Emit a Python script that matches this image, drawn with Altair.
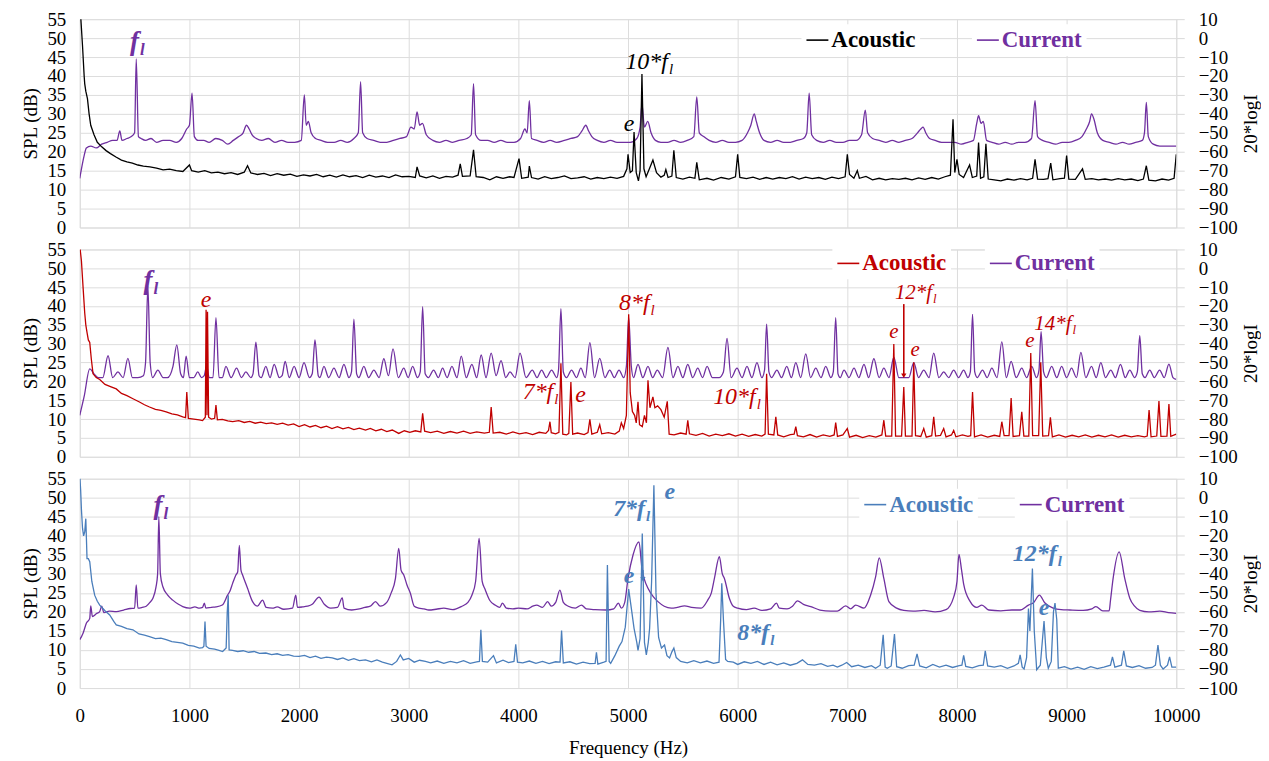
import altair as alt
import pandas as pd

FONT = "Liberation Serif"
PURPLE = "#7030A0"
BLACK = "#000000"
RED = "#C00000"
BLUE = "#4a7ebb"
GRID = "#d9d9d9"

X_TICKS = list(range(0, 10001, 1000))
SPL_TICKS = list(range(0, 56, 5))
LOGI_TICKS = list(range(-100, 11, 10))

# ---------- Panel 1 (black acoustic) ----------
# current: (frequency Hz, 20*logI)
P1_CUR = [(0,-74),(40,-62),(60,-58),(100,-57),(150,-58),(200,-56),(250,-55),(300,-54),(340,-54),(365,-49),(385,-54),(430,-53),(470,-52),(500,-50),(515,-11),(535,-52),(560,-53),(600,-54),(650,-53),(700,-55),(760,-54),(820,-54),(880,-55),(930,-53),(975,-48),(1000,-46),(1024,-29),(1045,-52),(1080,-54),(1130,-54),(1180,-55),(1240,-53),(1300,-54),(1350,-56),(1400,-54),(1450,-52),(1490,-50),(1520,-46),(1545,-48),(1570,-51),(1610,-53),(1660,-54),(1720,-53),(1780,-55),(1840,-54),(1900,-55),(1960,-55),(2020,-54),(2048,-30),(2065,-46),(2085,-44),(2110,-50),(2150,-53),(2200,-54),(2260,-55),(2320,-55),(2380,-54),(2440,-55),(2500,-53),(2540,-50),(2561,-23),(2580,-50),(2620,-53),(2680,-54),(2740,-55),(2800,-55),(2860,-54),(2920,-53),(2980,-52),(3020,-47),(3050,-48),(3076,-39),(3100,-46),(3125,-45),(3160,-51),(3220,-54),(3280,-55),(3340,-54),(3400,-55),(3460,-54),(3530,-53),(3570,-51),(3591,-24),(3610,-51),(3660,-54),(3720,-54),(3780,-55),(3840,-54),(3900,-55),(3960,-55),(4020,-53),(4060,-48),(4080,-50),(4100,-33),(4120,-53),(4170,-54),(4230,-55),(4290,-54),(4350,-55),(4420,-54),(4480,-53),(4540,-52),(4580,-49),(4615,-46),(4640,-49),(4670,-52),(4720,-54),(4780,-55),(4840,-54),(4900,-55),(4960,-55),(5020,-55),(5080,-53),(5110,-47),(5127,-35),(5150,-47),(5180,-44),(5210,-50),(5250,-54),(5300,-55),(5360,-55),(5420,-54),(5480,-55),(5540,-54),(5600,-52),(5627,-31),(5650,-50),(5690,-52),(5740,-54),(5800,-55),(5860,-54),(5920,-55),(5980,-55),(6040,-54),(6090,-50),(6120,-46),(6151,-40),(6170,-44),(6200,-50),(6240,-54),(6300,-55),(6360,-54),(6420,-55),(6480,-55),(6540,-54),(6600,-53),(6630,-50),(6652,-29),(6675,-51),(6720,-54),(6780,-55),(6840,-54),(6900,-55),(6960,-55),(7020,-54),(7080,-54),(7130,-51),(7164,-38),(7185,-50),(7230,-53),(7290,-54),(7350,-55),(7410,-54),(7470,-55),(7530,-54),(7590,-53),(7640,-50),(7670,-48),(7691,-47),(7715,-50),(7750,-53),(7800,-54),(7860,-55),(7920,-55),(7980,-55),(8040,-56),(8100,-55),(8150,-54),(8180,-45),(8197,-41),(8220,-45),(8240,-44),(8270,-54),(8320,-55),(8380,-56),(8440,-55),(8500,-56),(8560,-55),(8620,-55),(8680,-53),(8712,-33),(8735,-52),(8780,-54),(8840,-55),(8900,-56),(8960,-55),(9020,-55),(9080,-54),(9140,-52),(9180,-48),(9210,-44),(9227,-40),(9250,-43),(9280,-50),(9330,-54),(9390,-55),(9450,-56),(9510,-55),(9570,-56),(9630,-55),(9690,-54),(9710,-50),(9727,-34),(9745,-52),(9790,-56),(9850,-57),(9910,-57),(9960,-57),(10000,-57)]
# acoustic: (frequency Hz, SPL dB)
P1_AC = [(0,56),(10,55),(25,48),(40,40),(45,38),(55,36),(70,34),(85,30),(100,27),(130,24.5),(160,22.5),(200,21.3),(240,20.3),(280,19.5),(330,18.6),(380,17.8),(430,17.3),(480,17.0),(530,16.5),(580,16.2),(640,16.0),(700,15.7),(760,15.2),(820,15.4),(880,15.0),(940,14.8),(1000,16.5),(1020,15.0),(1080,14.6),(1140,15.0),(1200,14.4),(1260,14.6),(1320,14.2),(1380,14.5),(1440,14.0),(1500,14.6),(1530,16.3),(1560,14.4),(1620,14.0),(1680,14.3),(1740,13.7),(1800,14.2),(1860,13.8),(1920,14.1),(1980,13.5),(2040,13.9),(2100,13.6),(2160,14.0),(2220,13.4),(2280,13.8),(2340,13.3),(2400,13.9),(2460,13.4),(2520,13.7),(2580,13.2),(2640,13.8),(2700,13.3),(2760,13.6),(2820,13.2),(2880,13.9),(2940,13.4),(3000,13.5),(3060,13.2),(3076,16.0),(3100,13.6),(3160,13.1),(3220,13.6),(3280,13.0),(3340,13.5),(3400,13.3),(3450,13.8),(3470,16.8),(3490,13.5),(3560,13.6),(3591,20.5),(3615,13.4),(3680,13.2),(3740,12.6),(3800,13.4),(3860,13.0),(3920,13.4),(3960,13.2),(4006,18.2),(4030,13.0),(4090,13.3),(4100,16.2),(4120,13.2),(4180,12.8),(4240,13.4),(4300,12.9),(4360,13.2),(4420,13.6),(4480,12.9),(4540,13.1),(4600,13.4),(4660,12.8),(4720,13.2),(4780,12.9),(4840,13.3),(4900,13.0),(4960,13.5),(4990,15.5),(5000,19.3),(5020,14.5),(5040,15.0),(5055,25.2),(5075,14.5),(5095,12.3),(5110,15.0),(5127,40.5),(5145,15.5),(5165,13.4),(5195,15.5),(5227,17.8),(5260,14.5),(5300,13.3),(5330,13.8),(5345,15.3),(5365,13.2),(5400,13.6),(5418,20.4),(5440,13.2),(5500,12.8),(5560,13.3),(5610,13.0),(5627,17.2),(5650,12.6),(5720,13.0),(5780,12.5),(5850,13.2),(5920,12.8),(5980,13.4),(6000,19.3),(6020,13.2),(6080,12.9),(6140,13.3),(6200,12.7),(6260,13.2),(6320,12.8),(6380,13.2),(6440,12.9),(6500,13.4),(6560,12.8),(6620,13.3),(6680,12.9),(6740,13.2),(6800,12.7),(6860,13.3),(6920,12.9),(6980,13.4),(7000,19.3),(7020,14.0),(7060,13.0),(7091,15.0),(7110,13.0),(7170,13.5),(7230,12.6),(7290,13.0),(7350,12.6),(7410,12.9),(7470,12.7),(7530,13.0),(7590,12.6),(7650,13.1),(7710,12.7),(7770,13.2),(7830,12.8),(7890,13.4),(7940,13.8),(7964,28.6),(7980,14.5),(8000,18.0),(8020,14.0),(8060,13.2),(8115,16.5),(8140,13.2),(8180,13.6),(8197,22.4),(8215,13.0),(8245,13.4),(8264,22.1),(8285,12.8),(8340,12.6),(8400,12.3),(8460,12.8),(8520,12.5),(8580,12.9),(8640,12.6),(8690,13.0),(8712,18.0),(8735,12.8),(8790,12.7),(8830,12.9),(8855,17.0),(8875,12.6),(8940,12.9),(8980,13.0),(9000,19.0),(9020,12.8),(9080,12.7),(9145,15.5),(9170,12.7),(9230,12.9),(9290,12.6),(9350,12.8),(9410,12.5),(9470,12.9),(9530,12.6),(9590,12.8),(9650,12.4),(9700,12.8),(9727,16.3),(9750,12.5),(9810,12.3),(9870,12.8),(9930,12.5),(9980,13.0),(10000,19.3)]

# ---------- Panel 2 (red acoustic) ----------
P2_CUR = [(0,-78),(40,-68),(91,-53.4),(130,-56),(170,-58),(210,-58),(258,-46.4),(300,-58),(348,-55),(395,-58),(439,-47.8),(480,-58),(530,-58),(580,-57),(600,-50),(621,-9.4),(642,-50),(665,-58),(712,-54),(760,-58),(800,-58),(850,-52),(885,-40.6),(920,-56),(945,-58),(970,-46.6),(1000,-58),(1040,-58),(1076,-55),(1110,-58),(1135,-57),(1157,-51.6),(1180,-58),(1215,-58),(1242,-26.2),(1270,-58),(1300,-58),(1333,-52),(1380,-58),(1430,-53),(1475,-58),(1515,-55),(1560,-58),(1580,-56),(1606,-39.2),(1635,-57),(1655,-58),(1697,-52),(1735,-58),(1773,-51),(1820,-58),(1845,-57),(1873,-49.4),(1910,-58),(1955,-52),(2000,-58),(2045,-50),(2095,-58),(2120,-56),(2145,-38),(2175,-57),(2190,-58),(2227,-52),(2270,-58),(2318,-53),(2365,-58),(2409,-51),(2455,-58),(2478,-55),(2500,-27),(2525,-56),(2545,-58),(2591,-52),(2635,-58),(2682,-54),(2730,-58),(2773,-48),(2815,-57),(2857,-42.8),(2905,-58),(2955,-53),(2995,-58),(3036,-52),(3080,-58),(3105,-55),(3127,-20.4),(3150,-56),(3180,-58),(3227,-54),(3270,-58),(3309,-53),(3350,-58),(3394,-52),(3440,-58),(3479,-46.6),(3525,-58),(3576,-51),(3620,-58),(3661,-46),(3705,-58),(3752,-45),(3797,-57),(3842,-49),(3885,-58),(3924,-55),(3970,-58),(4015,-45),(4070,-58),(4127,-54),(4170,-58),(4212,-54),(4255,-58),(4303,-54),(4350,-58),(4366,-54),(4388,-21.4),(4410,-55),(4440,-58),(4485,-54),(4530,-58),(4570,-53),(4610,-58),(4652,-39.4),(4695,-58),(4742,-47.8),(4790,-58),(4833,-54),(4875,-58),(4918,-54),(4960,-58),(4985,-52),(5006,-26),(5030,-52),(5050,-58),(5091,-51),(5135,-58),(5182,-52),(5225,-58),(5267,-54),(5315,-58),(5364,-42),(5410,-58),(5455,-52),(5500,-58),(5545,-51),(5590,-58),(5636,-53),(5680,-58),(5721,-52),(5770,-58),(5830,-58),(5870,-55),(5903,-37.2),(5940,-58),(5994,-53),(6040,-58),(6085,-52),(6130,-58),(6176,-50),(6220,-58),(6245,-54),(6264,-29.6),(6285,-55),(6310,-58),(6358,-54),(6400,-58),(6448,-52),(6490,-58),(6530,-50),(6575,-58),(6621,-45.4),(6665,-58),(6712,-53),(6760,-58),(6803,-52),(6850,-58),(6872,-55),(6894,-26.2),(6915,-56),(6935,-58),(6970,-54),(7015,-58),(7061,-53),(7105,-58),(7152,-51),(7195,-58),(7242,-48),(7290,-58),(7333,-53),(7380,-58),(7424,-47.2),(7470,-58),(7515,-58),(7560,-58),(7606,-50),(7650,-58),(7697,-54),(7745,-58),(7788,-45),(7835,-58),(7879,-55),(7925,-58),(7970,-54),(8015,-58),(8061,-54),(8100,-58),(8122,-55),(8142,-24.4),(8162,-55),(8185,-58),(8233,-54),(8275,-58),(8318,-53),(8365,-58),(8409,-39),(8450,-58),(8494,-49.4),(8540,-58),(8591,-53),(8635,-58),(8682,-52),(8725,-58),(8748,-54),(8767,-33.6),(8790,-55),(8815,-58),(8864,-52),(8910,-58),(8955,-52),(9000,-58),(9045,-53),(9090,-58),(9130,-44.6),(9175,-58),(9227,-52),(9270,-58),(9312,-50),(9355,-58),(9403,-54),(9445,-58),(9491,-51),(9535,-58),(9576,-54),(9620,-58),(9645,-55),(9667,-35.8),(9690,-56),(9715,-58),(9758,-54),(9800,-58),(9848,-54),(9890,-58),(9933,-50.8),(9970,-58),(10000,-59)]
P2_AC = [(0,56),(15,52),(30,45),(45,38.2),(55,35),(66,33),(78,31),(91,30.3),(105,26),(121,22),(150,21),(182,20.5),(230,19.2),(280,18.6),(333,18),(380,16.8),(430,16.2),(485,15.4),(540,14.6),(590,13.8),(636,13.2),(690,12.6),(740,12.3),(788,11.9),(840,11.4),(890,11.1),(939,10.6),(965,10.4),(976,17.2),(990,10.2),(1040,10.0),(1090,9.8),(1120,9.6),(1145,10.5),(1152,39),(1160,11),(1165,38.5),(1175,10.5),(1200,10.0),(1230,10.2),(1242,13.7),(1255,9.8),(1300,9.9),(1350,9.5),(1394,9.3),(1450,9.6),(1500,9.1),(1550,9.4),(1600,8.9),(1650,9.2),(1700,8.8),(1750,9.0),(1800,8.6),(1850,8.9),(1900,8.4),(1950,8.7),(2000,8.0),(2050,8.5),(2100,7.9),(2150,8.3),(2200,7.7),(2250,8.1),(2300,7.5),(2350,8.0),(2400,7.4),(2450,7.8),(2500,7.2),(2550,7.6),(2606,7.1),(2650,7.5),(2700,6.9),(2750,7.3),(2800,6.7),(2850,7.1),(2909,6.2),(2960,6.9),(3010,6.5),(3060,6.9),(3110,6.6),(3127,11.5),(3145,6.8),(3200,6.4),(3260,6.8),(3320,6.2),(3380,6.7),(3440,6.3),(3500,6.8),(3560,6.2),(3620,6.6),(3690,6.3),(3735,6.5),(3752,13.2),(3770,6.3),(3830,6.5),(3890,6.0),(3950,6.6),(4010,6.1),(4070,6.4),(4130,5.9),(4190,6.5),(4250,6.2),(4275,7),(4288,9.3),(4300,6.4),(4340,6.1),(4370,6.5),(4388,24.8),(4405,6.0),(4440,5.8),(4460,6.2),(4479,19.8),(4495,6.0),(4540,6.3),(4600,5.9),(4635,6.4),(4652,9.9),(4670,6.0),(4720,6.5),(4742,8.5),(4760,6.1),(4820,6.4),(4880,6.0),(4920,6.8),(4939,9.0),(4960,7.5),(4985,11),(5006,37.8),(5020,17),(5040,12),(5060,11),(5075,9),(5091,14.6),(5105,8.5),(5130,8),(5150,11),(5168,9),(5182,20.3),(5200,13),(5227,15.9),(5245,13),(5270,13.5),(5300,12.5),(5330,10.5),(5358,14.7),(5375,6.0),(5420,5.8),(5480,6.3),(5530,6.0),(5545,9.7),(5560,6.1),(5620,5.7),(5680,6.2),(5740,5.5),(5800,6.0),(5860,5.6),(5920,6.1),(5980,5.5),(6040,6.0),(6100,5.4),(6160,5.9),(6220,5.5),(6250,6),(6264,22),(6280,6),(6330,5.8),(6348,10.6),(6365,5.8),(6420,5.3),(6480,5.9),(6515,6.0),(6530,8),(6545,5.6),(6600,5.3),(6660,5.9),(6720,5.2),(6780,5.8),(6840,5.4),(6880,5.8),(6894,9.1),(6910,5.4),(6960,5.8),(7000,7.5),(7020,5.2),(7080,5.7),(7140,5.1),(7200,5.6),(7260,5.2),(7315,5.8),(7333,9.7),(7350,5.5),(7405,5.5),(7424,29.9),(7440,5.5),(7495,5.5),(7515,18.5),(7530,5.5),(7590,5.5),(7606,25.1),(7622,5.6),(7670,5.4),(7697,7.5),(7720,5.2),(7770,5.6),(7788,10.6),(7805,5.5),(7850,5.7),(7879,7.5),(7900,5.3),(7950,5.8),(7970,7.0),(7990,5.3),(8050,5.8),(8100,5.4),(8125,5.6),(8142,17.2),(8160,5.3),(8220,5.8),(8280,5.2),(8340,5.7),(8390,5.4),(8409,9.3),(8430,5.6),(8475,5.6),(8494,15.6),(8512,5.4),(8570,5.6),(8591,11.9),(8610,5.5),(8655,5.5),(8673,27.5),(8690,5.6),(8745,5.6),(8764,25.1),(8782,5.5),(8835,5.6),(8852,10.5),(8870,5.3),(8930,5.8),(8990,5.2),(9050,5.7),(9110,5.3),(9170,5.8),(9230,5.2),(9290,5.7),(9350,5.3),(9410,5.8),(9470,5.2),(9530,5.7),(9590,5.3),(9650,5.6),(9710,5.3),(9735,5.5),(9752,12.4),(9770,5.3),(9822,5.5),(9842,14.8),(9860,5.4),(9915,5.5),(9933,14.0),(9950,5.4),(10000,6.0)]

# ---------- Panel 3 (blue acoustic) ----------
P3_CUR = [(0,-74.6),(30,-71.2),(60,-66),(91,-63.4),(100,-56.8),(115,-62.4),(150,-61),(182,-59.8),(200,-57),(220,-60.4),(270,-59.6),(333,-59.8),(400,-59),(460,-58.2),(500,-58),(515,-45.8),(530,-58),(570,-57.6),(606,-57),(640,-55),(667,-52.8),(695,-47),(710,-40),(721,-10),(735,-40),(758,-46.8),(800,-51),(848,-53.8),(900,-56),(939,-57.2),(1000,-58),(1050,-57.4),(1091,-58),(1120,-57.6),(1136,-55.4),(1150,-58),(1200,-57.6),(1242,-57.4),(1300,-56.4),(1348,-51.2),(1370,-49),(1394,-45),(1424,-40.6),(1440,-39),(1455,-25),(1470,-38),(1485,-40.6),(1530,-47.6),(1576,-54.6),(1620,-57),(1667,-53.8),(1700,-57.6),(1758,-58),(1800,-57.4),(1860,-58.6),(1940,-58),(1970,-51.2),(1985,-57.6),(2030,-57.4),(2076,-57),(2120,-56),(2182,-52.2),(2230,-56),(2288,-58),(2350,-57.6),(2394,-52.6),(2410,-58),(2480,-59),(2550,-58.4),(2600,-57.6),(2650,-57),(2697,-54.6),(2740,-57),(2800,-55),(2840,-50),(2879,-42.4),(2909,-26.6),(2930,-38),(2955,-40.6),(2985,-46),(3015,-50.2),(3050,-57),(3091,-58),(3140,-58.4),(3182,-59),(3250,-58.6),(3320,-58),(3400,-58.8),(3485,-57),(3540,-55),(3576,-51.2),(3610,-44),(3642,-21.4),(3670,-44),(3697,-48.2),(3740,-54),(3788,-56.4),(3830,-57.6),(3855,-55.4),(3890,-58),(3950,-58.4),(4000,-58),(4080,-58.4),(4130,-57),(4167,-56.4),(4220,-57.6),(4267,-54.6),(4300,-57),(4340,-55),(4379,-48.6),(4410,-55),(4455,-57),(4520,-58),(4576,-56.4),(4620,-58.4),(4700,-58.8),(4800,-59),(4870,-58.4),(4912,-55.4),(4940,-58),(4970,-55),(5000,-42.4),(5045,-30.2),(5100,-23.2),(5127,-37.2),(5150,-43),(5182,-47.6),(5230,-52),(5273,-54.6),(5330,-57),(5394,-58),(5450,-57.6),(5515,-56.8),(5580,-57.6),(5667,-58),(5727,-53.8),(5760,-50),(5788,-42.4),(5833,-31),(5860,-40),(5879,-42.4),(5924,-52.8),(5960,-57),(6000,-58),(6080,-58.8),(6150,-58),(6220,-59.2),(6300,-58.4),(6354,-55.4),(6380,-58),(6450,-58.4),(6500,-57),(6545,-54.2),(6600,-56),(6667,-57.2),(6750,-59),(6850,-59.6),(6909,-59.6),(6985,-56.8),(7030,-58.4),(7076,-56.4),(7152,-58),(7212,-51.2),(7258,-41.6),(7291,-31.6),(7333,-42.4),(7379,-54.6),(7450,-58),(7515,-59.2),(7600,-59.6),(7700,-59.2),(7800,-60),(7900,-58.8),(7970,-52.2),(8000,-44),(8018,-29.8),(8040,-37.2),(8061,-45.4),(8121,-54.6),(8180,-57.6),(8227,-56.4),(8290,-59),(8400,-59.4),(8500,-59),(8576,-59),(8652,-56.4),(8700,-55),(8752,-51.2),(8800,-55.2),(8879,-58),(8950,-58.8),(9030,-59),(9150,-59.2),(9230,-58.4),(9267,-57.2),(9330,-59.4),(9388,-59.4),(9400,-54),(9424,-42.4),(9479,-28.4),(9530,-42.4),(9576,-52.8),(9620,-57),(9667,-59.2),(9750,-60),(9850,-59.6),(9930,-60.4),(10000,-60.8)]
P3_AC = [(0,56),(8,52),(15,47),(25,42),(35,40),(45,41),(55,44.5),(62,38),(66,34),(78,34),(91,33.2),(110,28),(136,24.4),(160,22.8),(182,21.8),(230,20.3),(273,19.2),(310,17.5),(333,16.6),(380,16.2),(430,15.6),(485,15.3),(540,14.2),(590,13.9),(636,13.5),(690,13.0),(740,13.1),(788,12.7),(840,12.2),(890,12.0),(939,11.8),(990,11.2),(1040,11.0),(1091,10.5),(1120,10.6),(1132,11),(1142,17.5),(1152,11),(1180,10.4),(1230,10.2),(1270,9.9),(1303,9.6),(1335,10.5),(1345,20),(1354,24.4),(1362,10),(1394,9.9),(1440,9.6),(1490,9.8),(1540,9.4),(1590,9.6),(1640,9.1),(1697,9.2),(1750,8.8),(1800,9.0),(1850,8.6),(1900,8.8),(1950,8.4),(2000,8.3),(2050,8.6),(2100,8.0),(2150,8.4),(2200,7.8),(2250,8.1),(2303,7.9),(2350,7.5),(2400,7.9),(2450,7.3),(2500,7.7),(2550,7.2),(2606,7.4),(2660,6.9),(2710,7.4),(2760,6.8),(2800,6.5),(2848,6.1),(2890,7),(2924,8.7),(2950,7.4),(3000,7.8),(3050,6.8),(3100,7.3),(3152,7.0),(3200,6.6),(3260,7.1),(3320,6.5),(3380,7.0),(3440,6.6),(3500,7.2),(3560,6.5),(3620,6.9),(3645,7),(3658,15.3),(3672,7),(3720,6.8),(3773,8.5),(3800,6.6),(3860,7.3),(3910,6.7),(3960,7),(3976,11.5),(3992,6.8),(4040,6.6),(4100,7.1),(4160,6.5),(4220,7.0),(4280,6.4),(4340,6.9),(4380,6.8),(4394,15.1),(4410,6.6),(4470,6.9),(4530,6.3),(4590,6.8),(4650,6.4),(4700,6.5),(4712,9.4),(4725,6.3),(4780,6.8),(4800,7),(4812,32.3),(4828,7),(4842,6.5),(4880,8.5),(4920,11),(4945,12.2),(4975,16),(5006,26),(5030,21),(5055,15.7),(5080,12),(5091,9.9),(5110,13),(5130,40.6),(5150,12),(5167,8.7),(5185,12),(5197,15.7),(5215,28),(5236,53.3),(5255,25),(5279,13.3),(5305,10.5),(5333,11.3),(5355,8.5),(5379,7.9),(5400,9.5),(5418,10.5),(5440,8),(5480,7),(5540,6.6),(5600,7.2),(5660,6.6),(5720,7.1),(5780,6.5),(5830,6.8),(5845,18),(5855,27.5),(5870,18),(5890,7.5),(5909,7),(5960,6.8),(6000,6.2),(6060,6.9),(6121,6.5),(6180,7.0),(6240,6.2),(6300,6.8),(6360,6.1),(6420,6.6),(6480,6.0),(6540,6.5),(6591,7.4),(6640,6.2),(6700,6.0),(6760,6.4),(6820,5.7),(6870,6.0),(6909,5.5),(6950,6),(6994,6.7),(7040,5.6),(7100,6.0),(7160,5.4),(7220,5.9),(7258,5.2),(7300,6),(7327,14),(7345,5.5),(7364,5.2),(7400,5.8),(7430,14.2),(7450,5.6),(7500,5.2),(7560,5.9),(7610,6),(7636,9),(7660,5.8),(7720,5.3),(7780,6.2),(7840,5.5),(7900,6.0),(7960,5.4),(8020,5.9),(8045,6),(8061,8.6),(8080,5.7),(8140,5.3),(8200,5.9),(8240,6),(8258,9.8),(8280,5.8),(8340,5.5),(8400,5.9),(8460,5.2),(8520,5.8),(8560,6.5),(8576,8.7),(8595,5.5),(8612,5),(8635,8),(8652,20.9),(8665,15),(8688,31.4),(8705,15),(8727,4.8),(8760,6),(8794,17.6),(8815,8),(8833,5.2),(8860,7),(8880,20),(8894,22.3),(8910,18),(8924,5.2),(8980,5.6),(9040,5.0),(9100,5.5),(9160,4.9),(9220,5.6),(9280,5.1),(9340,5.5),(9400,6),(9418,8.2),(9440,5.5),(9500,6),(9521,9.8),(9545,5.8),(9600,5.4),(9660,5.9),(9720,5.2),(9780,5.4),(9810,6),(9833,11.3),(9855,6),(9880,5),(9920,6),(9939,8.2),(9960,5.5),(10000,5.5)]

# ---------- annotations: (text, frequency Hz, SPL dB, kind) ----------
# a text ending in "f" gets a subscript "l"
ANN1 = [("f", 540, 49.0, "fl"), ("10*f", 5364, 43.8, "ac"), ("e", 5009, 27.3, "ac")]
ANN2 = [("f", 664, 46.6, "fl"), ("e", 1152, 41.7, "ac"), ("8*f", 5197, 40.8, "ac"),
        ("7*f", 4318, 17.1, "ac"), ("e", 4568, 16.3, "ac"), ("10*f", 6164, 15.8, "ac"),
        ("12*f", 7773, 43.4, "acs"), ("e", 7424, 33.1, "acs"), ("e", 7618, 28.2, "acs"),
        ("14*f", 9045, 35.3, "acs"), ("e", 8664, 30.8, "acs")]
ANN3 = [("f", 755, 47.8, "fl"), ("7*f", 5155, 47.1, "ac"), ("e", 5382, 51.6, "ac"),
        ("e", 5009, 29.3, "ac"), ("8*f", 6288, 14.4, "ac"), ("12*f", 8909, 35.1, "ac"),
        ("e", 8795, 21.0, "ac")]
# arrows: (frequency Hz, SPL from, SPL to)
ARROW2 = [(7515, 40.5, 21.5)]
ARROW3 = [(5136, 31.0, 28.6)]

XSCALE = alt.Scale(domain=[0, 10000], nice=False, zero=False)
SPL_SCALE = alt.Scale(domain=[0, 55], nice=False, zero=False)
LOGI_SCALE = alt.Scale(domain=[-100, 10], nice=False, zero=False)

AX_FONT = dict(labelFont=FONT, titleFont=FONT, labelColor="black", titleColor="black",
               labelFontSize=19, titleFontSize=19, titleFontWeight="normal",
               labelOverlap=False, labelFlush=False)


def x_enc(bottom):
    if bottom:
        ax = alt.Axis(values=X_TICKS, title="Frequency (Hz)", grid=True, ticks=False,
                      domain=False, labelPadding=19, titlePadding=13, format="d", **AX_FONT)
    else:
        ax = alt.Axis(values=X_TICKS, title=None, labels=False, grid=True, ticks=False,
                      domain=False)
    return alt.X("f:Q", scale=XSCALE, axis=ax)


def text_layers(annots, color, kind, size, bold):
    rows = [a for a in annots if a[3] == kind]
    if not rows:
        return []
    df = pd.DataFrame(rows, columns=["t", "f", "v", "kind"])
    df["sub"] = df["t"].str.endswith("f")
    weight = "bold" if bold else "normal"
    yenc = alt.Y("v:Q", scale=SPL_SCALE, axis=None)
    xenc = alt.X("f:Q", scale=XSCALE)
    out = []
    with_sub = df[df["sub"]]
    plain = df[~df["sub"]]
    if len(with_sub):
        out.append(alt.Chart(with_sub).mark_text(
            align="right", baseline="middle", font=FONT, fontSize=size, fontStyle="italic",
            fontWeight=weight, color=color).encode(x=xenc, y=yenc, text="t:N"))
        subs = with_sub.copy()
        subs["s"] = "l"
        out.append(alt.Chart(subs).mark_text(
            align="left", baseline="middle", font=FONT, fontSize=round(size * 0.62),
            fontStyle="italic", fontWeight=weight, color=color, dy=round(size * 0.3), dx=1
        ).encode(x=xenc, y=yenc, text="s:N"))
    if len(plain):
        out.append(alt.Chart(plain).mark_text(
            align="center", baseline="middle", font=FONT, fontSize=size, fontStyle="italic",
            fontWeight=weight, color=color).encode(x=xenc, y=yenc, text="t:N"))
    return out


def arrow_layers(arrows, color):
    if not arrows:
        return []
    df = pd.DataFrame(arrows, columns=["f", "v1", "v2"])
    rule = alt.Chart(df).mark_rule(color=color, strokeWidth=1.6).encode(
        x=alt.X("f:Q", scale=XSCALE),
        y=alt.Y("v1:Q", scale=SPL_SCALE, axis=None), y2="v2:Q")
    head = alt.Chart(df).mark_point(shape="triangle-down", filled=True, color=color,
                                    size=28, opacity=1).encode(
        x=alt.X("f:Q", scale=XSCALE), y=alt.Y("v2:Q", scale=SPL_SCALE, axis=None))
    return [rule, head]


def panel(ac_pairs, cur_pairs, ac_color, annots, arrows, height, bottom, lx_ac, lx_cur, ly, ac_bold):
    cur_df = pd.DataFrame(cur_pairs, columns=["f", "c"])
    cur_df["series"] = "Current"
    ac_df = pd.DataFrame(ac_pairs, columns=["f", "v"])
    ac_df["series"] = "Acoustic"

    legend_common = dict(title=None, orient="none", legendY=ly, symbolType="stroke",
                         symbolSize=484, symbolStrokeWidth=1.6, labelFont=FONT,
                         labelFontSize=23, labelFontWeight="bold", fillColor="white",
                         padding=4, labelOffset=2)

    cur = alt.Chart(cur_df).mark_line(clip=True, strokeWidth=1.3, interpolate="monotone").encode(
        x=x_enc(bottom),
        y=alt.Y("c:Q", scale=LOGI_SCALE,
                axis=alt.Axis(orient="right", values=LOGI_TICKS, title="20*logI", grid=False,
                              ticks=True, tickSize=8, tickColor=GRID, domain=False,
                              labelPadding=14, titleAngle=270, titleBaseline="top",
                              titlePadding=4, **AX_FONT)),
        color=alt.Color("series:N", scale=alt.Scale(domain=["Current"], range=[PURPLE]),
                        legend=alt.Legend(legendX=lx_cur, labelColor=PURPLE, **legend_common)),
    )
    ac = alt.Chart(ac_df).mark_line(clip=True, strokeWidth=1.3).encode(
        x=x_enc(bottom),
        y=alt.Y("v:Q", scale=SPL_SCALE,
                axis=alt.Axis(orient="left", values=SPL_TICKS, title="SPL (dB)", grid=True,
                              ticks=False, domain=False, labelPadding=14, titlePadding=6,
                              **AX_FONT)),
        color=alt.Color("series:N", scale=alt.Scale(domain=["Acoustic"], range=[ac_color]),
                        legend=alt.Legend(legendX=lx_ac, labelColor=ac_color, **legend_common)),
    )
    layers = [cur, ac]
    layers += text_layers(annots, PURPLE, "fl", 27, True)
    layers += text_layers(annots, ac_color, "ac", 24, ac_bold)
    layers += text_layers(annots, ac_color, "acs", 21, ac_bold)
    layers += arrow_layers(arrows, ac_color)
    return alt.layer(*layers).resolve_scale(y="independent", color="independent").properties(
        width=1100, height=height)


p1 = panel(P1_AC, P1_CUR, BLACK, ANN1, [], 209, False, 724, 895, 5, False)
p2 = panel(P2_AC, P2_CUR, RED, ANN2, ARROW2, 208, False, 755, 908, -2, False)
p3 = panel(P3_AC, P3_CUR, BLUE, ANN3, ARROW3, 210, True, 782, 938, 10, True)

chart = alt.vconcat(p1, p2, p3, spacing=22, bounds="flush").resolve_scale(
    color="independent", y="independent"
).properties(
    padding={"left": 13, "top": 0, "right": 0, "bottom": 5}
).configure_view(
    stroke="#8c8c8c", strokeWidth=2
).configure_axis(
    labelFont=FONT, titleFont=FONT, labelColor="black", titleColor="black",
    gridColor=GRID, gridWidth=1
).configure(background="white")

chart.save("out.html", embed_options={"renderer": "svg", "actions": False})
